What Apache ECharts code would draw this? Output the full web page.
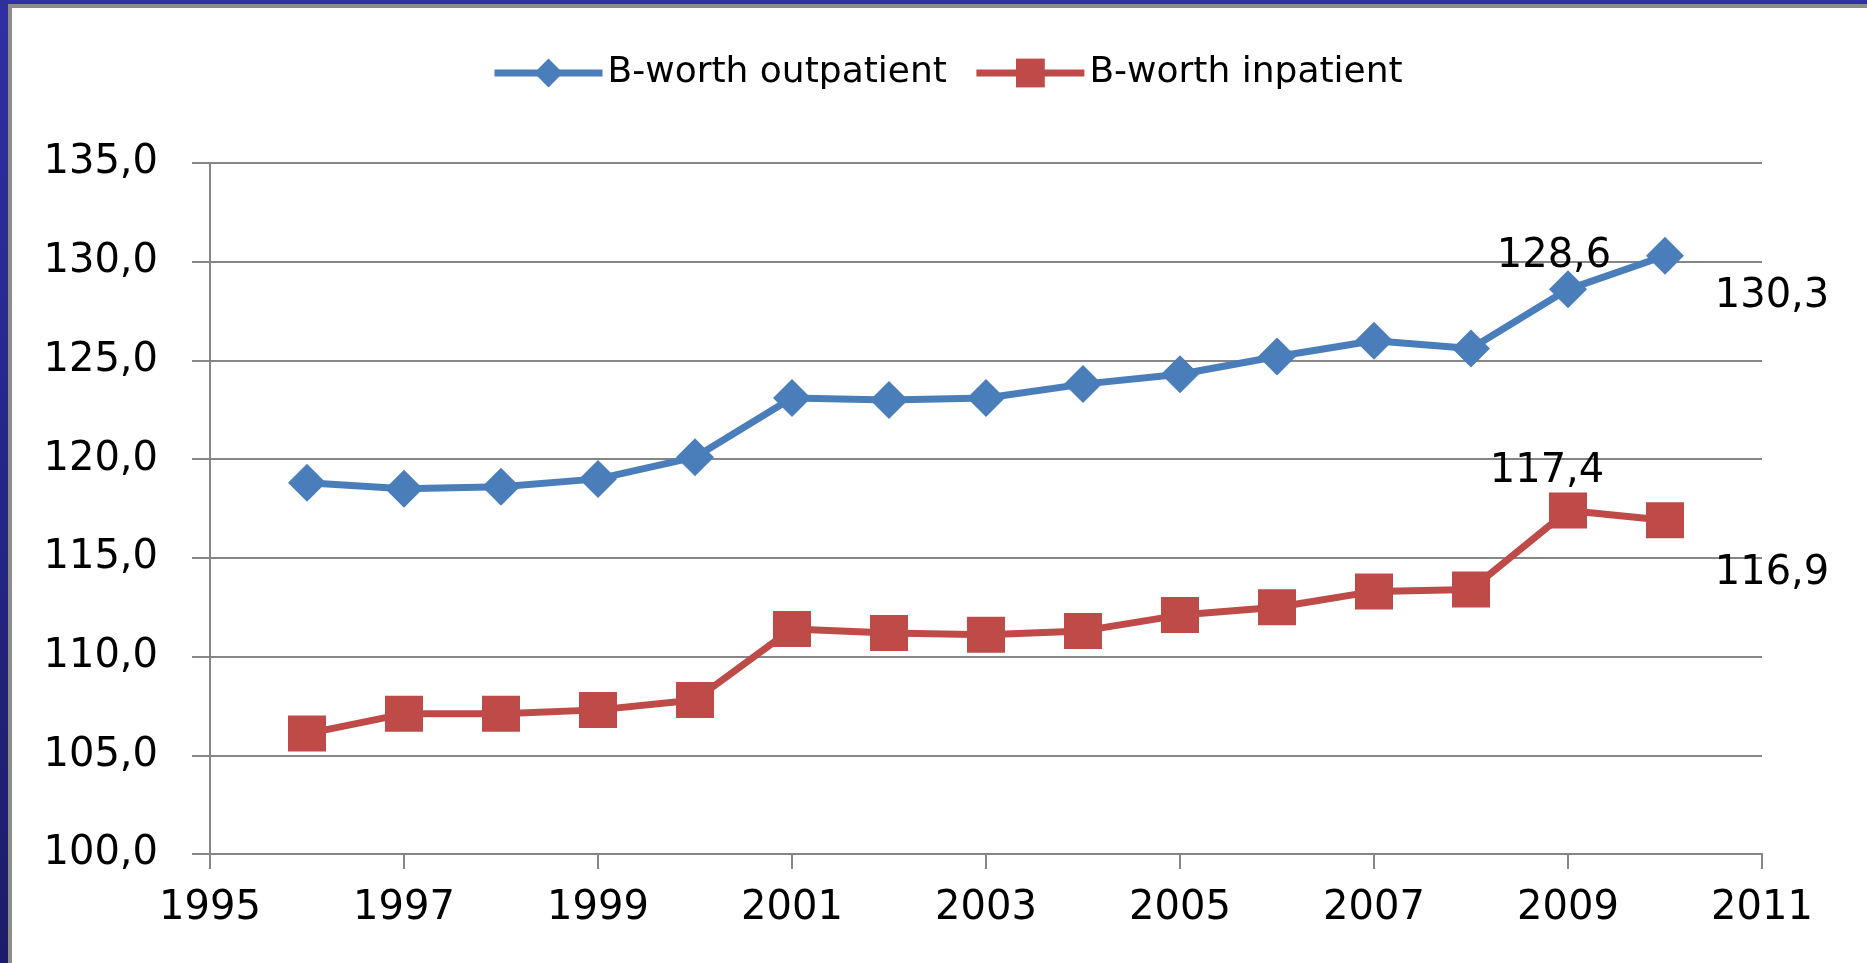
<!DOCTYPE html>
<html>
<head>
<meta charset="utf-8">
<script src="https://cdn.jsdelivr.net/npm/echarts@6/dist/echarts.min.js"></script>
<style>
  html, body { margin: 0; padding: 0; background: #fff; }
  #chart { position: absolute; left: 0; top: 0; width: 1867px; height: 963px; }
  .b { position: absolute; }
</style>
</head>
<body>
<div id="chart"></div>
<div class="b" style="left:0;top:0;width:1867px;height:4px;background:#3131a6;"></div>
<div class="b" style="left:0;top:4px;width:1867px;height:4px;background:#8c8c8c;"></div>
<div class="b" style="left:0;top:0;width:8px;height:963px;background:linear-gradient(#2f2fa3,#1c1c6a);"></div>
<div class="b" style="left:8px;top:4px;width:4px;height:959px;background:#8c8c8c;"></div>
<script>
const years = [1996, 1997, 1998, 1999, 2000, 2001, 2002, 2003, 2004, 2005, 2006, 2007, 2008, 2009, 2010];
const outpatient = [118.8, 118.5, 118.6, 119.0, 120.1, 123.1, 123.0, 123.1, 123.8, 124.3, 125.2, 126.0, 125.6, 128.6, 130.3];
const inpatient = [106.1, 107.1, 107.1, 107.3, 107.8, 111.4, 111.2, 111.1, 111.3, 112.1, 112.5, 113.3, 113.4, 117.4, 116.9];
const seriesNames = ['B-worth outpatient', 'B-worth inpatient'];
// which points carry a value label, and where the label sits relative to the point
const outLabels = { 2009: [-14, -33], 2010: [107, 41] };
const inLabels = { 2009: [-21, -39], 2010: [107, 53] };

const FONT = "'DejaVu Sans', Verdana, sans-serif";
const fmt = v => v.toFixed(1).replace('.', ',');

function build(vals, labels) {
  return years.map((y, i) => {
    const item = { value: [y, vals[i]] };
    if (labels[y]) {
      item.label = {
        show: true, position: 'inside', offset: labels[y],
        align: 'center', verticalAlign: 'middle',
        formatter: p => fmt(p.value[1]),
        color: '#000', fontSize: 40, fontFamily: FONT
      };
    }
    return item;
  });
}

const chart = echarts.init(document.getElementById('chart'), null, { renderer: 'canvas' });
chart.setOption({
  animation: false,
  backgroundColor: '#ffffff',
  textStyle: { fontFamily: FONT },
  legend: {
    left: 486, top: 50,
    itemWidth: 108, itemHeight: 36, itemGap: 26,
    lineStyle: { width: 7 },
    textStyle: { fontSize: 36, color: '#000', fontFamily: FONT },
    data: seriesNames
  },
  grid: { left: 210, right: 105, top: 163, bottom: 109, containLabel: false },
  xAxis: {
    type: 'value', min: 1995, max: 2011, interval: 2,
    axisLine: { show: true, lineStyle: { color: '#868686', width: 2 } },
    axisTick: { show: true, length: 15, lineStyle: { color: '#868686', width: 2 } },
    axisLabel: { fontSize: 40, color: '#000', margin: 35, fontFamily: FONT, formatter: v => String(v) },
    splitLine: { show: false }
  },
  yAxis: {
    type: 'value', min: 100, max: 135, interval: 5,
    axisLine: { show: true, lineStyle: { color: '#868686', width: 2 } },
    axisTick: { show: true, length: 18, lineStyle: { color: '#868686', width: 2 } },
    axisLabel: { fontSize: 40, color: '#000', margin: 52, fontFamily: FONT, formatter: v => fmt(v) },
    splitLine: { show: true, lineStyle: { color: '#868686', width: 2 } }
  },
  series: [
    {
      name: seriesNames[0], type: 'line',
      data: build(outpatient, outLabels),
      symbol: 'diamond', symbolSize: 38,
      lineStyle: { color: '#4a7ebb', width: 7 },
      itemStyle: { color: '#4a7ebb' },
      z: 3
    },
    {
      name: seriesNames[1], type: 'line',
      data: build(inpatient, inLabels),
      symbol: 'rect', symbolSize: [38, 36],
      lineStyle: { color: '#be4b48', width: 7 },
      itemStyle: { color: '#be4b48' },
      z: 3
    }
  ]
});
</script>
</body>
</html>
